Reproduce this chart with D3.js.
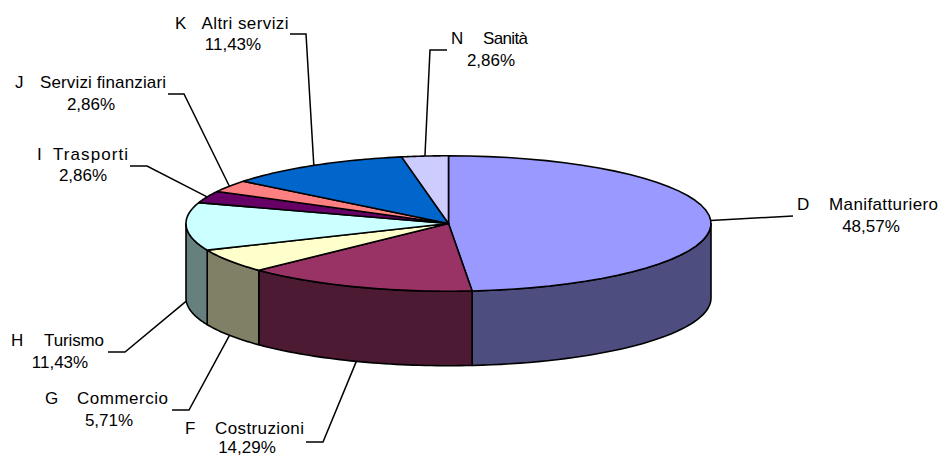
<!DOCTYPE html>
<html>
<head>
<meta charset="utf-8">
<script src="https://cdn.jsdelivr.net/npm/d3@7"></script>
<style>
  html, body { margin: 0; padding: 0; background: #fff; overflow: hidden; }
  text { font-family: "Liberation Sans", Arial, sans-serif; font-size: 17px; fill: #000; }
</style>
</head>
<body>
<script>
var codes = ["D", "F", "G", "H", "I", "J", "K", "N"];
var names = ["Manifatturiero", "Costruzioni", "Commercio", "Turismo", "Trasporti", "Servizi finanziari", "Altri servizi", "Sanità"];
var values = [48.57, 14.29, 5.71, 11.43, 2.86, 2.86, 11.43, 2.86];
var topColors = ["#9999ff", "#993366", "#ffffcc", "#ccffff", "#660066", "#ff8080", "#0066cc", "#ccccff"];
var sideColors = ["#4d4d80", "#4d1a33", "#808066", "#668080", "#330033", "#804040", "#003366", "#666680"];

// label placement: code x, name x and width, first baseline, percent centre, percent baseline, elbow
var codeX = [797, 185, 45, 11, 37, 15, 175, 451];
var nameX = [829, 215, 77, 44, 53, 40, 201.5, 483];
var nameW = [109, 89, 91, 60, 75, 126, 87, 45];
var line1Y = [210, 434, 404, 346, 160, 88, 29, 44];
var pctX = [871, 247, 109, 60, 83, 91, 233, 491];
var line2Y = [232, 453, 426, 368, 181, 110, 50, 66];
var elbowX = [793, 323, 189, 125, 147, 184, 306, 430];
var elbowY = [216, 442, 410, 352, 166, 94, 34, 50];
var tailX = [793, 306, 172, 108, 130, 168, 290, 447];

var w = 943;
var h = 457;
var cx = 448.5;
var cy = 223.5;
var rx = 262.5;
var ry = 67.7;
var depth = 74.5;

var svg = d3.select("body")
  .append("svg")
  .attr("width", w)
  .attr("height", h)
  .style("display", "block");

var pie = d3.pie().sort(null).value(function(d) { return d; });
var slices = pie(values);

// flatten the circle into an ellipse, angle 0 is at the top and runs clockwise
var xScale = d3.scaleLinear().domain([-1, 1]).range([cx - rx, cx + rx]);
var yScale = d3.scaleLinear().domain([-1, 1]).range([cy - ry, cy + ry]);
function px(a) { return xScale(Math.sin(a)); }
function py(a) { return yScale(-Math.cos(a)); }

var line = d3.line();

function arcPoints(a0, a1, dy) {
  return d3.range(0, 41).map(function(i) {
    var a = a0 + (a1 - a0) * i / 40;
    return [px(a), py(a) + dy];
  });
}

// side wall, only the part facing the viewer
var sideGroup = svg.append("g");
slices.forEach(function(s, i) {
  var a0 = Math.max(s.startAngle, Math.PI / 2);
  var a1 = Math.min(s.endAngle, Math.PI * 1.5);
  if (a1 <= a0) return;
  var pts = arcPoints(a0, a1, 0).concat(arcPoints(a1, a0, depth));
  sideGroup.append("path")
    .attr("d", line(pts) + "Z")
    .attr("fill", sideColors[i])
    .attr("stroke", "#000")
    .attr("stroke-width", 1.6)
    .attr("stroke-linejoin", "round");
});

svg.append("g")
  .selectAll("path")
  .data(slices)
  .enter()
  .append("path")
  .attr("d", function(s) {
    return line([[cx, cy]].concat(arcPoints(s.startAngle, s.endAngle, 0))) + "Z";
  })
  .attr("fill", function(d, i) { return topColors[i]; })
  .attr("stroke", "#000")
  .attr("stroke-width", 1.6)
  .attr("stroke-linejoin", "round");

// leader lines start at the middle of each slice
svg.append("g")
  .selectAll("path")
  .data(slices)
  .enter()
  .append("path")
  .attr("d", function(s, i) {
    var a = (s.startAngle + s.endAngle) / 2;
    var front = a > Math.PI / 2 && a < Math.PI * 1.5;
    var start = [px(a), py(a) + (front ? depth : 0)];
    return line([start, [elbowX[i], elbowY[i]], [tailX[i], elbowY[i]]]);
  })
  .attr("fill", "none")
  .attr("stroke", "#000")
  .attr("stroke-width", 1.5);

var pct = d3.formatLocale({ decimal: ",", thousands: ".", grouping: [3], currency: ["", ""] }).format(".2f");

var labels = svg.append("g")
  .selectAll("g")
  .data(slices)
  .enter()
  .append("g");

labels.append("text")
  .attr("x", function(d, i) { return codeX[i]; })
  .attr("y", function(d, i) { return line1Y[i]; })
  .text(function(d, i) { return codes[i]; });

labels.append("text")
  .attr("x", function(d, i) { return nameX[i]; })
  .attr("y", function(d, i) { return line1Y[i]; })
  .attr("textLength", function(d, i) { return nameW[i]; })
  .attr("lengthAdjust", "spacing")
  .text(function(d, i) { return names[i]; });

labels.append("text")
  .attr("x", function(d, i) { return pctX[i]; })
  .attr("y", function(d, i) { return line2Y[i]; })
  .attr("text-anchor", "middle")
  .text(function(d) { return pct(d.value) + "%"; });
</script>
</body>
</html>
